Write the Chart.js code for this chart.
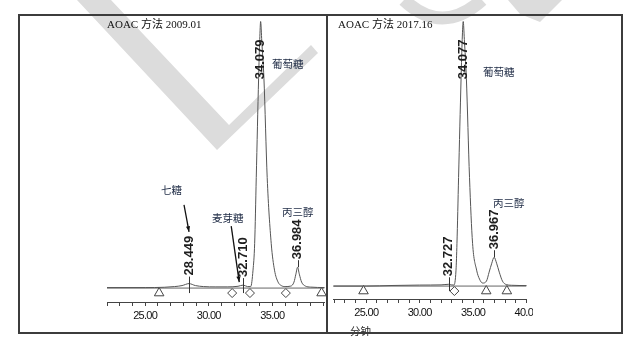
<!DOCTYPE html>
<html>
<head>
<meta charset="utf-8">
<script src="https://cdn.jsdelivr.net/npm/chart.js@4.4.0/dist/chart.umd.min.js"></script>
<style>
html, body { margin: 0; padding: 0; background: #fff; }
#stage { position: relative; width: 631px; height: 347px; overflow: hidden; }
.abs { position: absolute; }
.frame { left: 18px; top: 14px; width: 605px; height: 320px; border: 2px solid #3c3c3c; box-sizing: border-box; z-index: 3; }
.divider { left: 326px; top: 14px; width: 2px; height: 320px; background: #3c3c3c; z-index: 3; }
.title { font: 11px "Liberation Serif", "Noto Sans CJK SC", serif; color: #111; line-height: 14px; white-space: nowrap; z-index: 2; }
.note { font: 10.5px "Noto Sans CJK SC", sans-serif; color: #1d2a44; line-height: 14px; white-space: nowrap; z-index: 2; }
canvas { z-index: 1; }
svg { z-index: 0; }
</style>
</head>
<body>
<div id="stage">
  <svg class="abs" style="left:0;top:0" width="631" height="347">
    <polygon points="77,0 111,0 229,125 311,45 318,53 217,150" fill="#dcdcdc"/>
    <path d="M 404 0 Q 442 36 482 0" stroke="#dcdcdc" stroke-width="13" fill="none"/>
    <polygon points="508,0 562,0 540,22 520,14" fill="#dcdcdc"/>
  </svg>

  <canvas id="left" class="abs" style="left:19px;top:15px" width="312" height="317"></canvas>
  <canvas id="right" class="abs" style="left:327px;top:15px" width="206" height="317"></canvas>

  <div class="abs frame"></div>
  <div class="abs divider"></div>

  <div class="abs title" style="left:107px;top:17px">AOAC 方法 2009.01</div>
  <div class="abs title" style="left:338px;top:17px">AOAC 方法 2017.16</div>

  <div class="abs note" style="left:272px;top:57px">葡萄糖</div>
  <div class="abs note" style="left:282px;top:205px">丙三醇</div>
  <div class="abs note" style="left:161px;top:183px">七糖</div>
  <div class="abs note" style="left:212px;top:211px">麦芽糖</div>
  <div class="abs note" style="left:483px;top:65px">葡萄糖</div>
  <div class="abs note" style="left:493px;top:196px">丙三醇</div>
  <div class="abs note" style="left:350px;top:324px;color:#222">分钟</div>
</div>

<script>
// AOAC 2009.01 — левая хроматограмма
const leftTime = [22.0, 25.0, 26.5, 27.3, 27.9, 28.449, 28.95, 29.6, 30.5, 31.5,
  32.3, 32.71, 33.05, 33.3, 33.48, 33.61, 33.735, 33.92, 34.01, 34.079,
  34.17, 34.337, 34.595, 34.91, 35.17, 35.45, 35.7, 36.0, 36.45, 36.7,
  36.85, 36.984, 37.12, 37.3, 37.6, 38.0, 39.1];
const leftSignal = [0.5, 0.5, 0.8, 1.5, 2.5, 4.5, 2.5, 1.5, 1.2, 1.2,
  1.8, 3, 1.5, 1.5, 18, 45, 111, 211, 250, 268,
  248, 211, 111, 45, 18, 6, 2.5, 1.5, 2, 6,
  14, 21, 14, 6, 2, 1, 0.5];
const leftPeaks = [28.449, 32.71, 34.079, 36.984];
const leftTriangles = [26.1, 38.87];
const leftDiamonds = [31.84, 33.24, 36.06];

// AOAC 2017.16 — правая хроматограмма
const rightTime = [21.9, 25.0, 27.5, 30.0, 32.0, 32.727, 33.0, 33.2, 33.4, 33.49,
  33.64, 33.875, 33.98, 34.077, 34.18, 34.37, 34.665, 34.95, 35.33, 35.6,
  35.9, 36.25, 36.5, 36.75, 36.967, 37.2, 37.45, 37.75, 38.1, 38.6, 40.0];
const rightSignal = [0, 0, 0.6, 1, 1.2, 1.8, 1.2, 1, 16, 43,
  109, 209, 248, 266, 248, 209, 109, 43, 16, 7,
  3, 5, 14, 23, 29, 23, 14, 5, 1.5, 0.8, 0.5];
const rightPeaks = [32.727, 34.077, 36.967];
const rightTriangles = [24.74, 36.23, 38.16];
const rightDiamonds = [33.25];

const markerLevel = -5;

function drawArrow(ctx, x0, y0, x1, y1) {
    ctx.beginPath();
    ctx.moveTo(x0, y0);
    ctx.lineTo(x1, y1);
    ctx.stroke();
    const a = Math.atan2(y1 - y0, x1 - x0);
    ctx.beginPath();
    ctx.moveTo(x1, y1);
    ctx.lineTo(x1 - 6 * Math.cos(a - 0.35), y1 - 6 * Math.sin(a - 0.35));
    ctx.lineTo(x1 - 6 * Math.cos(a + 0.35), y1 - 6 * Math.sin(a + 0.35));
    ctx.closePath();
    ctx.fill();
}

// Подписи времён удерживания (повёрнутый текст над пиками)
const peakLabelPlugin = {
    id: 'peakLabels',
    beforeDraw(chart) {
        // узкие подписи оси
        chart.ctx.letterSpacing = '-0.7px';
    },
    beforeDatasetsDraw(chart) {
        chart.ctx.letterSpacing = '0px';
    },
    afterDatasetsDraw(chart, args, opts) {
        const { ctx, chartArea } = chart;
        const x = chart.scales.x, y = chart.scales.y;
        ctx.save();
        ctx.font = 'bold 13px "Liberation Sans", Arial, sans-serif';
        ctx.fillStyle = '#1e1e1e';
        ctx.strokeStyle = '#333';
        ctx.lineWidth = 1;
        const spots = {};
        opts.peaks.forEach(t => {
            const v = opts.signal[opts.times.indexOf(t)];
            const px = x.getPixelForValue(t);
            const apex = y.getPixelForValue(v);
            const base = y.getPixelForValue(0);
            const text = t.toFixed(3);
            const w = ctx.measureText(text).width;
            let start = apex - 8;
            if (start - w < chartArea.top + 18) start = chartArea.top + 18 + w;
            if (start < apex) {
                const xx = Math.round(px) + 0.5;
                ctx.beginPath();
                ctx.moveTo(xx, start + 1);
                ctx.lineTo(xx, v < 8 ? base + 5 : apex);
                ctx.stroke();
            }
            ctx.save();
            ctx.translate(px, start);
            ctx.rotate(-Math.PI / 2);
            ctx.textAlign = 'left';
            ctx.textBaseline = 'middle';
            ctx.fillText(text, 0, 0);
            ctx.restore();
            spots[t] = { px, apex, top: start - w };
        });
        // стрелки к мелким пикам
        if (opts.arrows) {
            ctx.strokeStyle = '#111';
            ctx.fillStyle = '#111';
            ctx.lineWidth = 1.3;
            opts.arrows.forEach(a => {
                const s = spots[a.peak];
                const tipX = s.px + a.dx;
                const tipY = a.toLabel ? s.top - 4 : s.apex - 3;
                drawArrow(ctx, tipX + a.tx, tipY + a.ty, tipX, tipY);
            });
        }
        ctx.restore();
    }
};

function buildChart(id, o) {
    const points = o.times.map((t, i) => ({ x: t, y: o.signal[i] }));
    return new Chart(document.getElementById(id), {
        type: 'line',
        data: {
            datasets: [
                {
                    data: o.triangles.map(t => ({ x: t, y: markerLevel })),
                    showLine: false, pointStyle: 'triangle', pointRadius: 5.5,
                    backgroundColor: '#fff', borderColor: '#444', borderWidth: 1, clip: false
                },
                {
                    data: o.diamonds.map(t => ({ x: t, y: markerLevel })),
                    showLine: false, pointStyle: 'rectRot', pointRadius: 4.5,
                    backgroundColor: '#fff', borderColor: '#444', borderWidth: 1, clip: false
                },
                {
                    data: points,
                    borderColor: '#555', borderWidth: 1, pointRadius: 0,
                    cubicInterpolationMode: 'monotone', clip: false
                },
                {
                    data: [{ x: o.min, y: 0 }, { x: o.max, y: 0 }],
                    borderColor: '#666', borderWidth: 1, pointRadius: 0
                }
            ]
        },
        options: {
            responsive: false,
            animation: false,
            devicePixelRatio: 1,
            layout: { padding: { left: o.padLeft, right: o.padRight, top: 5, bottom: 0 } },
            plugins: {
                legend: { display: false },
                tooltip: { enabled: false },
                peakLabels: { peaks: o.peaks, times: o.times, signal: o.signal, arrows: o.arrows }
            },
            scales: {
                x: {
                    type: 'linear', min: o.min, max: o.max,
                    ticks: {
                        stepSize: 1, includeBounds: false, autoSkip: false, maxRotation: 0, padding: 3,
                        color: '#111',
                        font: { family: '"Liberation Sans Narrow", "Liberation Sans", sans-serif', size: 11 },
                        callback: v => (Math.abs(v % 5) < 1e-6 ? v.toFixed(2) : '')
                    },
                    grid: { drawOnChartArea: false, drawTicks: true, tickLength: 4, color: '#444' },
                    border: { display: true, color: '#444', width: 1 },
                    afterFit: s => { s.paddingLeft = 0; s.paddingRight = 0; s.height = o.axisHeight; }
                },
                y: { display: false, min: o.yMin, max: o.yMax }
            }
        },
        plugins: [peakLabelPlugin]
    });
}

buildChart('left', {
    times: leftTime, signal: leftSignal, peaks: leftPeaks,
    triangles: leftTriangles, diamonds: leftDiamonds,
    min: 22.0, max: 39.1, yMin: -14, yMax: 268,
    padLeft: 88, padRight: 5, axisHeight: 30,
    arrows: [
        { peak: 28.449, dx: 0, toLabel: true, tx: -5, ty: -27 },
        { peak: 32.71, dx: -4, toLabel: false, tx: -8, ty: -56 }
    ]
});

buildChart('right', {
    times: rightTime, signal: rightSignal, peaks: rightPeaks,
    triangles: rightTriangles, diamonds: rightDiamonds,
    min: 21.93, max: 40.0, yMin: -13, yMax: 266,
    padLeft: 0, padRight: 0, axisHeight: 33
});
</script>
</body>
</html>
